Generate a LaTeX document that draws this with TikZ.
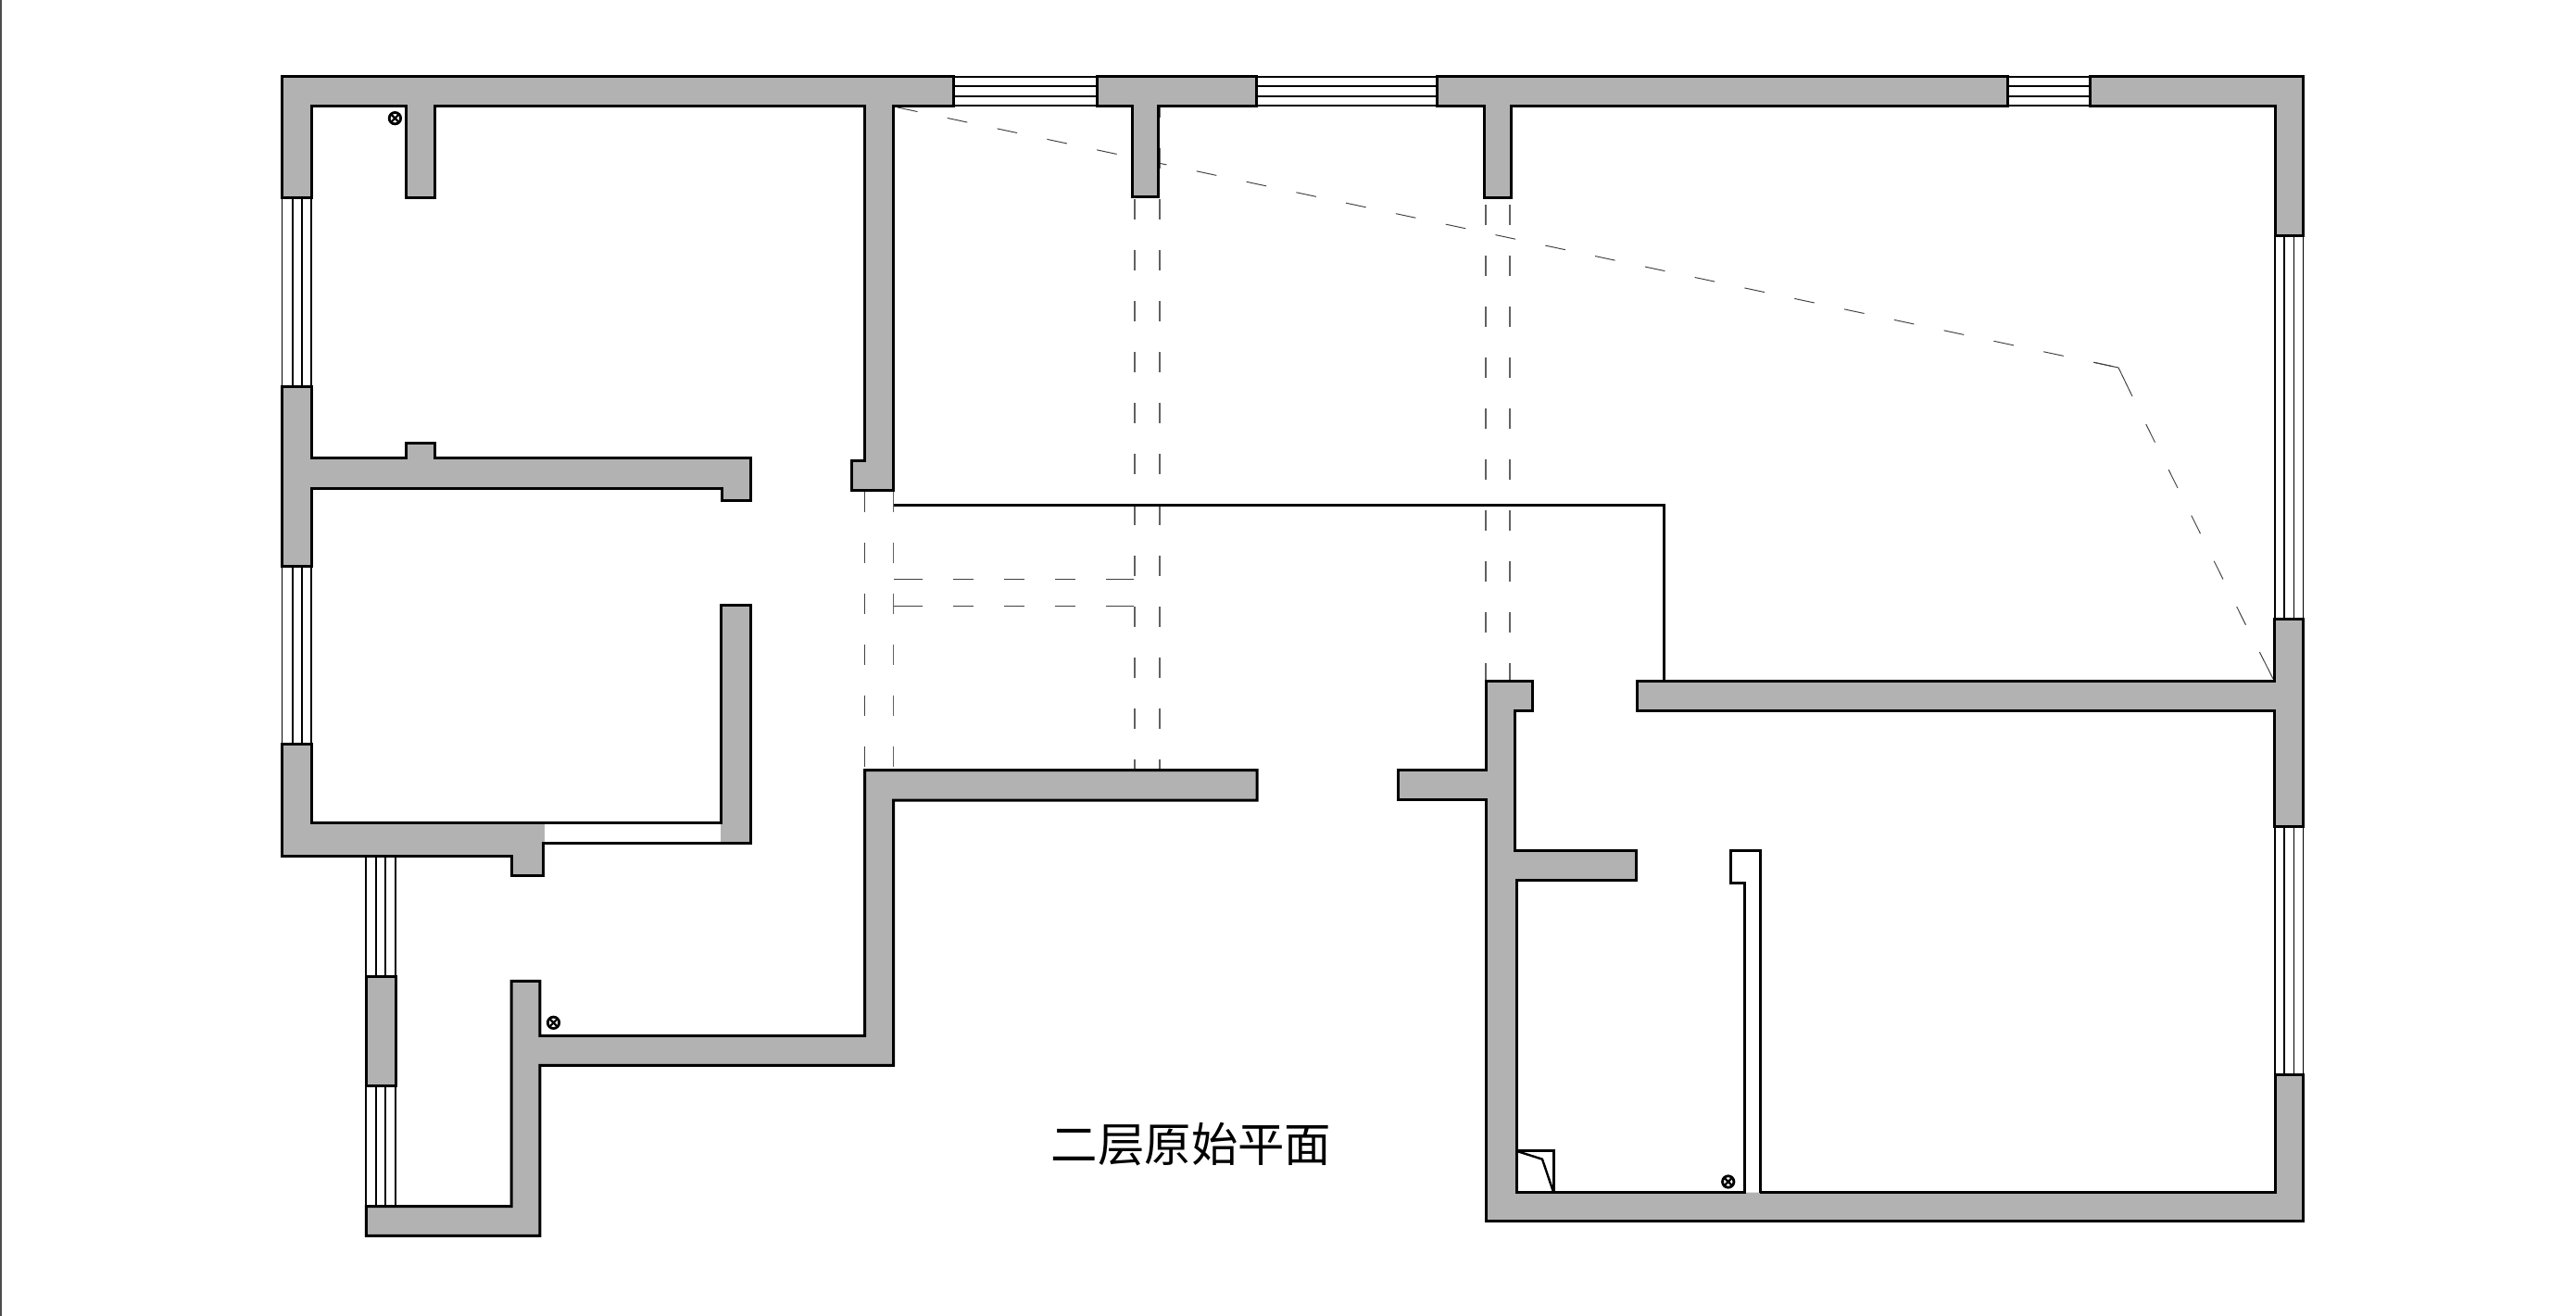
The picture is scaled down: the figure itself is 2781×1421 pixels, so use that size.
\documentclass[tikz,border=0pt]{standalone}
\usepackage{fontspec}
\newfontfamily\cjk{Noto Sans CJK SC}
\definecolor{wallgray}{HTML}{B2B2B2}
\tikzset{
  wall/.style={fill=wallgray,draw=black,line width=0.75pt,line join=miter},
  wallfill/.style={fill=wallgray,draw=none},
  wallline/.style={draw=black,line width=0.75pt,line join=miter},
  glass/.style={draw=black,line width=0.42pt},
  glassh/.style={draw=black,line width=0.55pt},
  hidden/.style={draw=black!62,line width=0.3pt,dash pattern=on 5.5pt off 8.25pt},
  hiddenk/.style={draw=black!75,line width=0.24pt,dash pattern=on 5.5pt off 8.25pt},
  solidk/.style={draw=black!75,line width=0.24pt},
  sockring/.style={draw=black,line width=0.7pt,fill=white},
  sockx/.style={draw=black,line width=0.55pt},
}
\newcommand{\socket}[2]{%
  \draw[sockring] (#1,#2) circle (6.2);
  \draw[sockx] (#1-4.6,#2-4.6) -- (#1+4.6,#2+4.6) (#1-4.6,#2+4.6) -- (#1+4.6,#2-4.6);
}
\begin{document}
\begin{tikzpicture}[x=0.25pt,y=-0.25pt]
\useasboundingbox (0,0) rectangle (2781,1421);
% page edge
\draw[draw=black!70,line width=0.38pt] (0.8,0) -- (0.8,1421);

% horizontal windows
\foreach \a/\b in {1029/1184,1356/1551,2167.8/2256.5}
  \foreach \y in {82.7,93,103.7,114.3}
    \draw[glassh] (\a,\y) -- (\b,\y);
% vertical windows
\foreach \a/\b in {213/418,611.5/803.3}
  \foreach \x in {304.5,315.7,326,336}
    \draw[glass] (\x,\a) -- (\x,\b);
\foreach \a/\b in {924.3/1054.3,1172.3/1302.7}
  \foreach \x in {395.3,406,416,427}
    \draw[glass] (\x,\a) -- (\x,\b);
\foreach \a/\b in {254.3/668.3,892/1160}
  \foreach \x in {2456,2466,2476.5,2486.6}
    \draw[glass] (\x,\a) -- (\x,\b);

% hidden lines: columns
\draw[hidden] (1225,215) -- (1225,832);
\draw[hidden] (1252,105) -- (1252,832);
\draw[hidden] (1604,221) -- (1604,735);
\draw[hidden] (1630,221) -- (1630,735);
\draw[hiddenk] (933.6,531) -- (933.6,832);
\draw[hidden] (964.7,531) -- (964.7,832);
% hidden lines: beam across the corridor
\draw[solidk] (965,625) -- (996,625);
\draw[hiddenk] (1029,625) -- (1224,625);
\draw[solidk] (1194,625) -- (1224,625);
\draw[solidk] (965,654) -- (996,654);
\draw[hiddenk] (1029,654) -- (1224,654);
\draw[solidk] (1194,654) -- (1224,654);
% hidden lines: ceiling outline
\draw[hiddenk] (969,116) -- (2287,397);
\draw[solidk] (2260.6,391.3) -- (2287,397) -- (2302,428);
\draw[hiddenk] (2316.7,458) -- (2439,704);
\draw[solidk] (2439.3,704) -- (2454,733);

% walls
\draw[wall] (304.5,82.7) -- (1029,82.7) -- (1029,114.5) -- (964.7,114.5) -- (964.7,530) -- (919.8,530) -- (919.8,498) -- (933.6,498) -- (933.6,115) -- (469,115) -- (469,214) -- (438,214) -- (438,115) -- (336,115) -- (336,213.3) -- (304.5,213.3) -- cycle;
\draw[wall] (304.5,418) -- (336,418) -- (336,495) -- (438,495) -- (438,479) -- (469,479) -- (469,495) -- (810.6,495) -- (810.6,541) -- (779,541) -- (779,527.7) -- (336,527.7) -- (336,611.5) -- (304.5,611.5) -- cycle;
% bottom-left room wall with its open strip
\fill[wallfill] (304.5,803.3) -- (336,803.3) -- (336,888.3) -- (778,888.3) -- (778,654) -- (810.6,654) -- (810.6,910) -- (586,910) -- (586,945) -- (552,945) -- (552,924.3) -- (304.5,924.3) -- cycle;
\fill[white] (588,888.3) rectangle (778,910);
\draw[wallline] (304.5,803.3) -- (336,803.3) -- (336,888.3) -- (778,888.3) -- (778,654) -- (810.6,654) -- (810.6,910) -- (586,910) -- (586,945) -- (552,945) -- (552,924.3) -- (304.5,924.3) -- cycle;
% centre wall
\draw[wall] (933.6,831.7) -- (1357,831.7) -- (1357,864) -- (964.5,864) -- (964.5,1150.3) -- (582.8,1150.3) -- (582.8,1334.3) -- (395.3,1334.3) -- (395.3,1302.7) -- (552,1302.7) -- (552,1059.3) -- (582.8,1059.3) -- (582.8,1118.3) -- (933.7,1118.3) -- cycle;
\draw[wall] (395.3,1054.3) rectangle (427,1172.3);
% top wall pieces
\draw[wall] (1184,82.7) -- (1356,82.7) -- (1356,114.5) -- (1250,114.5) -- (1250,213) -- (1222,213) -- (1222,114.5) -- (1184,114.5) -- cycle;
\draw[wall] (1551,82.7) -- (2167.8,82.7) -- (2167.8,114.5) -- (1631,114.5) -- (1631,214) -- (1602,214) -- (1602,114.5) -- (1551,114.5) -- cycle;
\draw[wall] (2256.5,82.7) -- (2486.6,82.7) -- (2486.6,254.3) -- (2456,254.3) -- (2456,114.5) -- (2256.5,114.5) -- cycle;
% right middle wall
\draw[wall] (1767.5,735) -- (2455.5,735) -- (2455.5,668.3) -- (2486.6,668.3) -- (2486.6,892) -- (2455.5,892) -- (2455.5,767) -- (1767.5,767) -- cycle;
% bottom-right wall
\fill[wallfill] (1604.5,735) -- (1654,735) -- (1654,767.3) -- (1635.4,767.3) -- (1635.4,918.3) -- (1766.4,918.3) -- (1766.4,950) -- (1637.5,950) -- (1637.5,1287.7) -- (2456,1287.7) -- (2456,1160) -- (2486.6,1160) -- (2486.6,1318) -- (1604.5,1318) -- (1604.5,863.3) -- (1509.3,863.3) -- (1509.3,831.7) -- (1604.5,831.7) -- cycle;
\draw[wallline] (1900,1287.7) -- (2456,1287.7) -- (2456,1160) -- (2486.6,1160) -- (2486.6,1318) -- (1604.5,1318) -- (1604.5,863.3) -- (1509.3,863.3) -- (1509.3,831.7) -- (1604.5,831.7) -- (1604.5,735) -- (1654,735) -- (1654,767.3) -- (1635.4,767.3) -- (1635.4,918.3) -- (1766.4,918.3) -- (1766.4,950) -- (1637.5,950) -- (1637.5,1287.7) -- (1883,1287.7) -- (1883,953.3) -- (1868.6,953.3) -- (1868.6,918.3) -- (1900,918.3) -- (1900,1287.7);
% partition line
\draw[wallline] (964.7,545.7) -- (1796.4,545.7) -- (1796.4,735);
% small fixture in the corner
\draw[wallline,line width=0.6pt] (1638,1242.3) -- (1677.3,1242.3) -- (1677.3,1287.7);
\draw[wallline,line width=0.6pt] (1638.7,1243.3) -- (1665,1251.7) -- (1677.3,1288);
% sockets
\socket{426.4}{127.7}
\socket{597.5}{1104.3}
\socket{1865.7}{1276}
% title
\node[inner sep=0pt,font=\cjk\fontsize{12.6pt}{12.6pt}\selectfont] (title) at (1286,1236) {二层原始平面};
\end{tikzpicture}
\end{document}
